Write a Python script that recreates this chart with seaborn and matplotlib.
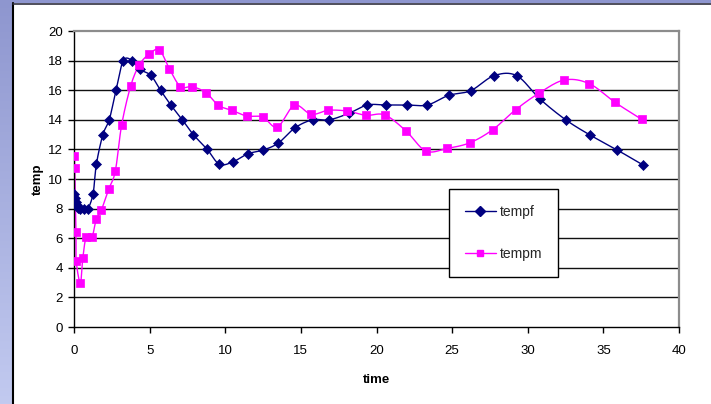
import numpy as np
import pandas as pd
import matplotlib
matplotlib.use("Agg")
import matplotlib.pyplot as plt
from matplotlib.lines import Line2D
import seaborn as sns

# Body temperature readings over time for the two series
time_f = [0.0, 0.07, 0.13, 0.2, 0.26, 0.42, 0.64, 0.91, 1.26, 1.48, 1.91, 2.33,
          2.78, 3.26, 3.85, 4.36, 5.08, 5.72, 6.4, 7.16, 7.89, 8.81, 9.61, 10.51,
          11.48, 12.52, 13.51, 14.63, 15.78, 16.88, 18.18, 19.39, 20.63, 22.0,
          23.36, 24.77, 26.23, 27.77, 29.27, 30.81, 32.51, 34.12, 35.88, 37.6]
tempf = [9.0, 8.7, 8.45, 8.25, 8.05, 7.98, 7.96, 7.98, 9.0, 11.0, 13.0, 14.0,
         16.0, 18.0, 18.0, 17.4, 17.0, 16.0, 15.0, 14.0, 13.0, 12.0, 11.0, 11.16,
         11.7, 11.96, 12.43, 13.47, 14.0, 14.0, 14.44, 15.0, 15.0, 15.0,
         15.0, 15.65, 15.97, 16.98, 16.98, 15.4, 14.0, 12.97, 11.98, 10.96]

time_m = [0.02, 0.05, 0.13, 0.15, 0.42, 0.58, 0.81, 1.19, 1.47, 1.8, 2.29, 2.73,
          3.15, 3.75, 4.32, 4.96, 5.64, 6.3, 7.04, 7.82, 8.73, 9.54, 10.43, 11.42,
          12.48, 13.44, 14.57, 15.69, 16.81, 18.07, 19.29, 20.54, 21.93, 23.27,
          24.68, 26.18, 27.68, 29.2, 30.76, 32.42, 34.07, 35.77, 37.53]
tempm = [11.57, 10.72, 6.43, 4.44, 2.98, 4.63, 6.09, 6.09, 7.27, 7.88, 9.3, 10.53,
         13.65, 16.29, 17.71, 18.43, 18.72, 17.46, 16.24, 16.24, 15.83, 14.98, 14.64, 14.26,
         14.19, 13.51, 14.98, 14.37, 14.64, 14.59, 14.3, 14.33, 13.27, 11.89,
         12.07, 12.45, 13.33, 14.68, 15.81, 16.69, 16.44, 15.18, 14.03]

y_ticks = list(range(0, 21, 2))
x_ticks = list(range(0, 41, 5))

NAVY = "#000080"
MAGENTA = "#FF00FF"


def smooth_curve(x, y, steps=20):
    """Cubic Bezier smoothing through every point (Catmull-Rom style)."""
    p = np.column_stack([x, y]).astype(float)
    ext = np.vstack([p[0], p, p[-1]])
    t = np.linspace(0, 1, steps)[:, None]
    pieces = []
    for i in range(len(p) - 1):
        p0, p1 = ext[i + 1], ext[i + 2]
        c1 = p0 + (ext[i + 2] - ext[i]) / 6.0
        c2 = p1 - (ext[i + 3] - ext[i + 1]) / 6.0
        seg = ((1 - t) ** 3) * p0 + 3 * ((1 - t) ** 2) * t * c1 \
            + 3 * (1 - t) * t ** 2 * c2 + t ** 3 * p1
        pieces.append(seg if i == 0 else seg[1:])
    c = np.vstack(pieces)
    return c[:, 0], c[:, 1]


sns.set_theme(style="white")
plt.rcParams["font.family"] = ["Liberation Sans Narrow", "Liberation Sans", "DejaVu Sans"]

W, H = 711, 404
fig = plt.figure(figsize=(W / 100, H / 100), dpi=100)
fig.patch.set_facecolor("white")

# Lavender frame strips at the left and top edges
grad = np.linspace(0, 1, 256)[:, None]
lav = matplotlib.colors.LinearSegmentedColormap.from_list("lav", ["#8e96cf", "#c2caf0"])
strip = fig.add_axes([0, 0, 12 / W, 1])
strip.imshow(grad, aspect="auto", cmap=lav, extent=[0, 1, 0, 1], origin="upper")
strip.set_axis_off()
top = fig.add_axes([0, 1 - 3 / H, 1, 3 / H])
top.set_facecolor("#8e96cf")
top.set_xticks([]); top.set_yticks([])
for s in top.spines.values():
    s.set_visible(False)
fig.add_artist(Line2D([12.5 / W, 12.5 / W], [0, 1 - 3 / H], transform=fig.transFigure,
                      color="black", lw=1.5))
fig.add_artist(Line2D([12.5 / W, 1], [1 - 3.5 / H, 1 - 3.5 / H], transform=fig.transFigure,
                      color="#303040", lw=1.2))

# Plot area
x0, x1, y0, y1 = 74, 679, 31, 327
ax = fig.add_axes([x0 / W, 1 - y1 / H, (x1 - x0) / W, (y1 - y0) / H])
ax.set_facecolor("white")

for t, v, col, mk, size in [(time_f, tempf, NAVY, "D", 26),
                            (time_m, tempm, MAGENTA, "s", 26)]:
    sx, sy = smooth_curve(t, v)
    sns.lineplot(x=sx, y=sy, sort=False, estimator=None, color=col, lw=1.0, ax=ax,
                 legend=False)
    sns.scatterplot(x=t, y=v, marker=mk, s=size, color=col, edgecolor=col,
                    linewidth=0.5, ax=ax, legend=False, zorder=5)

ax.set_xlim(0, 40)
ax.set_ylim(0, 20)
ax.set_xticks(x_ticks)
ax.set_yticks(y_ticks)
for yv in y_ticks[1:-1]:
    ax.axhline(yv, color="#111111", lw=1.0, zorder=0)

for side in ["left", "bottom"]:
    ax.spines[side].set_color("black")
    ax.spines[side].set_linewidth(1.0)
for side in ["top", "right"]:
    ax.spines[side].set_color("#8c8c8c")
    ax.spines[side].set_linewidth(1.6)

ax.tick_params(axis="both", direction="out", length=4, width=1, color="black",
               labelsize=9.5, labelcolor="black")
ax.tick_params(axis="x", pad=9)
ax.tick_params(axis="y", pad=4)
ax.tick_params(left=True, bottom=True)

ax.set_xlabel("time", fontsize=9.5, fontweight="bold", labelpad=12, color="black")
ax.set_ylabel("temp", fontsize=9.5, fontweight="bold", labelpad=3, color="black")

handles = [Line2D([], [], color=NAVY, marker="D", markersize=4.6, lw=1.0),
           Line2D([], [], color=MAGENTA, marker="s", markersize=5, lw=1.0)]
leg = ax.legend(handles, ["tempf", "tempm"], loc="upper left",
                bbox_to_anchor=(449 / W, 1 - 189 / H), bbox_transform=fig.transFigure,
                borderaxespad=0, fancybox=False, frameon=True, framealpha=1,
                edgecolor="black", borderpad=1.15, labelspacing=2.0,
                handlelength=2.2, handletextpad=0.3,
                prop={"family": ["Liberation Sans", "DejaVu Sans"], "size": 10})
leg.get_frame().set_linewidth(1.0)

fig.savefig("out.png", dpi=100)
